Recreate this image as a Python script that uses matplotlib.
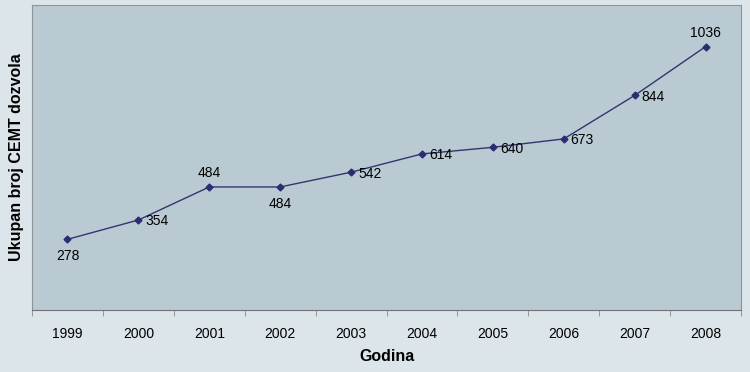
import matplotlib
matplotlib.use('Agg')
import matplotlib.pyplot as plt
import numpy as np

years = ["1999", "2000", "2001", "2002", "2003", "2004", "2005", "2006", "2007", "2008"]
permits = [278, 354, 484, 484, 542, 614, 640, 673, 844, 1036]
# where each value label sits relative to its point
label_pos = ["below", "right", "above", "below", "right", "right", "right", "right", "right", "above"]

plt.rcParams['font.family'] = ['Liberation Sans', 'DejaVu Sans']

fig = plt.figure(figsize=(7.5, 3.72), dpi=100, facecolor='#dce5ea')
ax = fig.add_axes([0.0427, 0.1667, 0.9453, 0.820])
ax.set_facecolor('#b9cad3')

x = np.arange(len(years))
ax.plot(x, permits, color='#34346e', lw=1.0, marker='D', ms=3.5,
        mfc='#2c2c70', mec='#2c2c70')

for xi, v, pos in zip(x, permits, label_pos):
    if pos == "below":
        ax.annotate(str(v), (xi, v), xytext=(0, -7), textcoords='offset points',
                    ha='center', va='top', fontsize=10)
    elif pos == "above":
        ax.annotate(str(v), (xi, v), xytext=(0, 5), textcoords='offset points',
                    ha='center', va='bottom', fontsize=10)
    else:
        ax.annotate(str(v), (xi, v), xytext=(5, -1), textcoords='offset points',
                    ha='left', va='center', fontsize=10)

ax.set_xlim(-0.5, len(years) - 0.5)
ax.set_ylim(0, 1200)
ax.set_yticks([])
ax.set_xticks(x)
ax.set_xticklabels(years, fontsize=10)
ax.set_xticks(np.arange(-0.5, len(years)), minor=True)
ax.tick_params(axis='x', which='major', length=0, pad=12)
ax.tick_params(axis='x', which='minor', length=4, color='#8a8a8a', direction='out')

for s in ['top', 'right', 'left']:
    ax.spines[s].set_color('#8c9496')
ax.spines['bottom'].set_color('#6e7476')

ax.set_xlabel("Godina", fontsize=11.5, fontweight='bold', labelpad=6)
ax.set_ylabel("Ukupan broj CEMT dozvola", fontsize=11.5, fontweight='bold', labelpad=6)

fig.savefig("out.png", dpi=100, facecolor=fig.get_facecolor())
